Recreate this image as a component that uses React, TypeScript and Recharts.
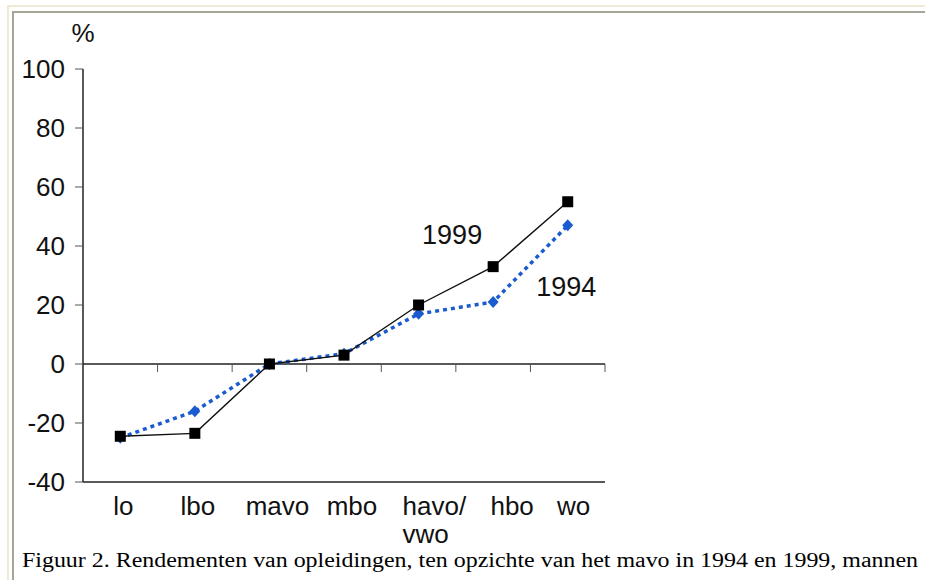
import React from "react";
import {Line, LineChart, ReferenceDot, ReferenceLine, XAxis, YAxis} from "recharts";

const categories = ['lo', 'lbo', 'mavo', 'mbo', 'havo/vwo', 'hbo', 'wo'];
const values1999 = [-24.5, -23.5, 0, 3, 20, 33, 55];
const values1994 = [-25, -16, 0, 3.5, 17, 21, 47];
const yTicks = [-40, -20, 0, 20, 40, 60, 80, 100];
const caption = 'Figuur 2. Rendementen van opleidingen, ten opzichte van het mavo in 1994 en 1999, mannen';

// small nudges so the category labels sit where the original put them
const labelShift: Record<string, number> = {lo: 3, lbo: 3, mavo: 8, mbo: 8, hbo: 19, wo: 6};

const data = categories.map((name, i) => ({
    pos: i + 0.5,
    name,
    y1999: values1999[i],
    y1994: values1994[i],
}));
const labelTicks = data.map(d => d.pos);
const boundaryTicks = categories.map((_, i) => i + 1);

const SANS = '"Liberation Sans", Arial, sans-serif';
const BLUE = '#1a5ccf';

const CategoryTick = (props: any) => {
    const {x, y, payload} = props;
    const name = categories[Math.floor(payload.value)];
    if (name === 'havo/vwo') {
        return (
            <g>
                <text x={x - 16} y={y} dy="0.71em" textAnchor="start" fontSize={26} fontFamily={SANS} fill="#111">havo/</text>
                <text x={x - 16} y={y + 28} dy="0.71em" textAnchor="start" fontSize={26} fontFamily={SANS} fill="#111">vwo</text>
            </g>
        );
    }
    return (
        <text x={x + (labelShift[name] || 0)} y={y} dy="0.71em" textAnchor="middle" fontSize={26}
              fontFamily={SANS} fill="#111">{name}</text>
    );
};

const Square = (props: any) => {
    const {cx, cy} = props;
    if (cx == null || cy == null) return null;
    return <rect x={cx - 5.5} y={cy - 5.5} width={11} height={11} fill="#000"/>;
};

const Diamond = (props: any) => {
    const {cx, cy} = props;
    if (cx == null || cy == null) return null;
    return <path d={`M${cx},${cy - 6}L${cx + 5.5},${cy}L${cx},${cy + 6}L${cx - 5.5},${cy}Z`} fill={BLUE}/>;
};

const App = () => {
    return (
        <div style={{position: 'absolute', left: 0, top: 0, width: 925, height: 580, overflow: 'hidden', background: '#fff'}}>
            {/* frame lines of the original page */}
            <div style={{position: 'absolute', left: 7, top: 5, width: 1000, height: 700, borderLeft: '2px solid #efead6', borderTop: '2px solid #efead6'}}/>
            <div style={{position: 'absolute', left: 12, top: 11, width: 1000, height: 700, borderLeft: '2px solid #a7a498', borderTop: '2px solid #a7a498'}}/>

            <div style={{position: 'absolute', left: 63, top: 18, width: 40, lineHeight: '30px', fontSize: 26, fontFamily: SANS, textAlign: 'center', color: '#111'}}>%</div>

            <div style={{position: 'absolute', left: 0, top: 0}}>
                <LineChart width={620} height={548} data={data} margin={{top: 69, right: 15, bottom: 15, left: 0}}>
                    <XAxis type="number" dataKey="pos" domain={[0, 7]} ticks={labelTicks} interval={0}
                           height={51} tickLine={false} tickSize={0} tickMargin={15}
                           axisLine={{stroke: '#222', strokeWidth: 1.5}} tick={<CategoryTick/>}/>
                    <YAxis type="number" domain={[-40, 100]} ticks={yTicks} interval={0} width={83}
                           tickSize={8} tickMargin={10}
                           axisLine={{stroke: '#222', strokeWidth: 1.5}}
                           tickLine={{stroke: '#555', strokeWidth: 1}}
                           tick={{fontSize: 26, fontFamily: SANS, fill: '#111'}}/>
                    <ReferenceLine y={0} stroke="#222" strokeWidth={1.5}/>
                    {boundaryTicks.map(k => (
                        <ReferenceLine key={k} segment={[{x: k, y: 0}, {x: k, y: -2.7}]} stroke="#555" strokeWidth={1}/>
                    ))}
                    <Line dataKey="y1994" stroke={BLUE} strokeWidth={3.5} strokeDasharray="4 4"
                          dot={<Diamond/>} activeDot={false} isAnimationActive={false}/>
                    <Line dataKey="y1999" stroke="#111" strokeWidth={1.4}
                          dot={<Square/>} activeDot={false} isAnimationActive={false}/>
                    <ReferenceDot x={4.95} y={44} r={0} fill="none" stroke="none"
                                  label={{value: '1999', position: 'center', fontSize: 27, fontFamily: SANS, fill: '#111'}}/>
                    <ReferenceDot x={6.48} y={26.4} r={0} fill="none" stroke="none"
                                  label={{value: '1994', position: 'center', fontSize: 27, fontFamily: SANS, fill: '#111'}}/>
                </LineChart>
            </div>

            <svg width={925} height={40} style={{position: 'absolute', left: 0, top: 540}}>
                <text x={22} y={27} fontSize={20} fontFamily='"Liberation Serif", "Times New Roman", serif'
                      fill="#000" textLength={896} lengthAdjust="spacingAndGlyphs">{caption}</text>
            </svg>
        </div>
    );
};

export default App;
